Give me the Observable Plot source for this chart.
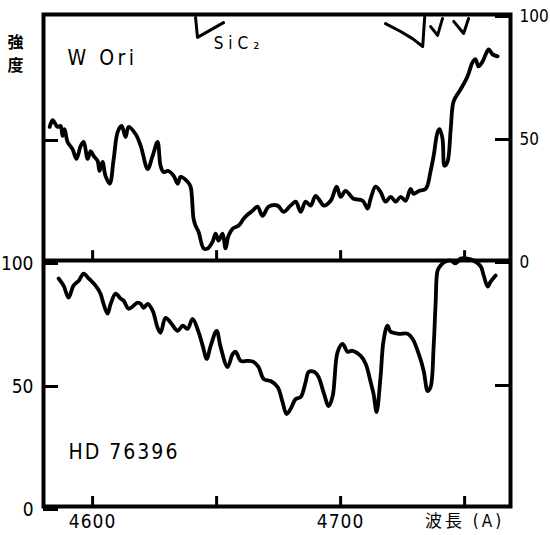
<!DOCTYPE html>
<html><head><meta charset="utf-8">
<script src="https://cdn.jsdelivr.net/npm/d3@7"></script>
<script src="https://cdn.jsdelivr.net/npm/@observablehq/plot@0.6"></script>
<style>
body{margin:0;background:#fff}
#chart svg{display:block}
</style></head><body><div id="chart"></div>
<script>
// W Ori (upper panel) — wavelength (Å) and intensity (0–100, right axis)
const wOriWavelength = [4582.7,4583.9,4585.9,4587.1,4587.9,4588.7,4589.9,4591.9,4593.5,4595.2,
4596.4,4598.0,4599.2,4600.4,4602.0,4602.8,4604.0,4605.2,4606.9,4608.5,
4610.1,4611.7,4613.3,4614.5,4617.3,4619.4,4622.2,4624.2,4626.2,4627.4,
4628.6,4630.6,4632.7,4634.3,4635.5,4638.3,4639.5,4640.7,4641.5,4642.7,
4644.8,4646.4,4648.4,4649.6,4650.8,4652.4,4653.6,4654.8,4656.5,4658.9,
4660.9,4662.9,4664.5,4666.5,4668.5,4671.0,4674.6,4677.0,4679.8,4681.9,
4683.9,4685.9,4687.9,4689.9,4691.9,4693.1,4696.0,4698.4,4700.0,4702.0,
4704.0,4705.2,4708.9,4710.9,4712.1,4714.1,4716.1,4718.1,4720.2,4722.2,
4724.2,4726.2,4728.2,4729.4,4731.5,4734.3,4736.3,4737.5,4739.1,4739.9,
4741.1,4741.9,4743.1,4744.4,4745.6,4748.4,4751.2,4753.2,4754.4,4755.6,
4757.3,4758.5,4759.7,4761.3,4763.3];
const wOriIntensity = [54.3,57.1,54.3,54.7,50.6,53.4,48.2,45.3,41.3,46.6,
48.2,41.3,44.5,42.5,40.5,36.4,40.1,34.4,31.2,41.3,
52.2,54.7,50.2,54.3,51.4,46.6,37.2,42.5,48.2,38.5,
36.0,36.4,34.4,31.2,34.0,32.0,30.0,17.0,14.2,11.7,
4.9,4.9,7.7,10.9,8.1,10.9,4.9,10.1,13.0,14.2,
17.0,19.0,20.2,21.9,18.2,21.9,22.3,19.8,22.3,23.9,
19.8,23.9,22.3,26.3,23.9,22.3,24.3,30.0,25.9,28.3,
26.3,25.1,24.3,21.1,25.1,30.0,27.9,23.9,25.9,23.9,
25.9,24.3,29.1,27.1,28.3,29.1,36.4,42.5,52.2,53.4,
49.4,38.5,40.1,53.4,64.8,69.6,74.9,80.6,81.8,78.9,
81.0,83.8,85.8,83.8,83.0];

// HD 76396 (lower panel) — wavelength (Å) and intensity (0–100, left axis)
const hdWavelength = [4586.3,4588.3,4590.3,4592.3,4594.4,4596.4,4598.4,4601.2,4603.2,4604.4,
4606.0,4607.3,4609.3,4611.3,4612.5,4614.5,4616.5,4618.1,4619.4,4620.6,
4622.2,4624.2,4626.2,4627.4,4629.4,4631.5,4634.3,4636.3,4638.3,4640.3,
4642.7,4644.4,4646.0,4647.6,4650.0,4651.6,4654.4,4656.5,4657.7,4659.7,
4662.5,4664.9,4666.9,4669.0,4671.8,4674.6,4676.6,4678.2,4679.8,4681.9,
4683.9,4685.9,4687.1,4689.5,4691.1,4693.1,4695.2,4696.8,4698.8,4700.8,
4702.8,4704.8,4708.1,4710.1,4712.1,4713.3,4714.5,4716.1,4717.3,4718.9,
4720.2,4723.4,4727.0,4729.0,4731.5,4733.5,4735.1,4736.3,4737.5,4738.3,
4739.1,4740.3,4742.3,4744.4,4746.4,4748.4,4751.2,4753.6,4756.5,4757.7,
4759.3,4760.5,4762.5];
const hdIntensity = [92.7,89.8,84.9,89.8,91.8,94.7,92.7,89.8,86.5,82.4,
78.4,82.4,86.5,84.5,83.7,80.4,81.6,82.9,82.4,80.8,
82.4,79.6,72.7,70.6,76.7,74.7,71.4,73.5,72.2,76.3,
71.0,65.3,60.0,65.3,71.4,64.9,56.7,62.0,62.9,59.2,
59.2,58.8,56.7,51.8,51.0,48.6,42.4,37.6,39.6,43.7,
44.5,50.6,54.7,54.7,52.7,46.5,40.8,44.9,62.9,66.1,
62.9,63.3,61.2,58.0,50.6,45.7,38.4,52.7,67.3,73.5,
71.0,70.2,70.2,68.2,62.0,55.1,46.9,48.6,64.9,82.4,
95.9,98.0,99.6,100.0,98.8,100.8,100.8,100.0,97.6,93.9,
89.4,91.4,93.9];

// band-head markers drawn in the upper panel (group, wavelength, intensity)
const markerGroup      = ["SiC2","SiC2","SiC2","b1","b1","b1","b1","b1","b2","b2","b2","b3","b3","b3"];
const markerWavelength = [4641.5,4642.3,4652.8, 4718.1,4724.2,4729.0,4733.1,4733.9, 4736.3,4739.1,4741.1, 4745.6,4749.6,4751.6];
const markerIntensity  = [98.8,90.7,96.7, 96.3,93.1,90.2,87.0,99.0, 95.1,91.5,98.4, 97.2,92.3,98.4];

// ticks and labels
const xTicks = [4600,4650,4700,4750];
const xTickLabels = ["4600","","4700","波長 (A)"];
const leftTicks = [0,50,100,150];       // lower panel 0,50,100 + upper panel 50
const rightTicks = [50,100,150,200];    // lower panel 50 + upper panel 0,50,100
const panelOffset = 100;                // upper panel sits above the lower one

const labelTexts = ["W Ori","HD 76396","SiC₂"];
const labelWavelength = [4589.9,4590.3,4648.8];
const labelValue = [82.1+panelOffset,22.0,88.0+panelOffset];

const upperData = wOriWavelength.map((x,i)=>({x, v: wOriIntensity[i] + panelOffset}));
const lowerData = hdWavelength.map((x,i)=>({x, v: hdIntensity[i]}));
const markerData = markerWavelength.map((x,i)=>({g: markerGroup[i], x, v: markerIntensity[i] + panelOffset}));
const labelData = labelTexts.map((t,i)=>({t, x: labelWavelength[i], v: labelValue[i]}));

const font = '"Liberation Sans Narrow","DejaVu Sans Condensed","Noto Sans CJK JP",sans-serif';

const plot = Plot.plot({
  width: 550, height: 535,
  marginLeft: 43, marginRight: 40, marginTop: 14, marginBottom: 29,
  x: {domain: [4580.2, 4768.5]},
  y: {domain: [0, 200]},
  style: {fontFamily: font, fontSize: "19px", color: "#000", background: "#fff", overflow: "visible"},
  marks: [
    Plot.line(lowerData, {x: "x", y: "v", stroke: "#000", strokeWidth: 3.8, curve: "catmull-rom", strokeLinejoin: "round"}),
    Plot.line(upperData, {x: "x", y: "v", stroke: "#000", strokeWidth: 3.8, curve: "catmull-rom", strokeLinejoin: "round"}),
    Plot.line(markerData, {x: "x", y: "v", z: "g", stroke: "#000", strokeWidth: 3, strokeLinejoin: "round"}),
    Plot.frame({stroke: "#000", strokeWidth: 4}),
    Plot.ruleY([panelOffset], {stroke: "#000", strokeWidth: 4}),
    Plot.ruleX(xTicks, {x: d => d, y1: panelOffset, y2: panelOffset + 4, stroke: "#000", strokeWidth: 3}),
    Plot.axisY(leftTicks, {anchor: "left", tickSize: -15, tickPadding: 25, strokeWidth: 3, dy: 3,
      tickFormat: d => d <= 100 ? String(d) : "", label: null, fontSize: 19}),
    Plot.axisY(rightTicks, {anchor: "right", tickSize: -16, tickPadding: 25, strokeWidth: 3, dy: 2,
      tickFormat: d => d >= 100 ? String(d - panelOffset) : "", label: null, fontSize: 17}),
    Plot.axisX(xTicks, {anchor: "bottom", tickSize: -10, tickPadding: 18, strokeWidth: 3,
      tickFormat: d => xTickLabels[xTicks.indexOf(d)], label: null, fontSize: 19}),
    Plot.text(labelData, {x: "x", y: "v", text: "t", textAnchor: "start", fontSize: 21}),
    Plot.text(["強\n度"], {frameAnchor: "top-left", dx: -36, dy: 18, lineHeight: 1.4, fontSize: 16, fontWeight: "bold"})
  ]
});

const spacing = {"W Ori": "3.5px", "HD 76396": "2px", "SiC₂": "5px", "4600": "1px", "4700": "1px", "波長 (A)": "3px"};
d3.select(plot).selectAll("text").each(function(){
  const s = spacing[this.textContent];
  if (s) this.style.letterSpacing = s;
  if (this.textContent === "SiC₂") this.style.fontSize = "17px";
  if (this.textContent === "波長 (A)") this.style.fontSize = "17px";
});
document.getElementById("chart").appendChild(plot);
</script>
</body></html>
